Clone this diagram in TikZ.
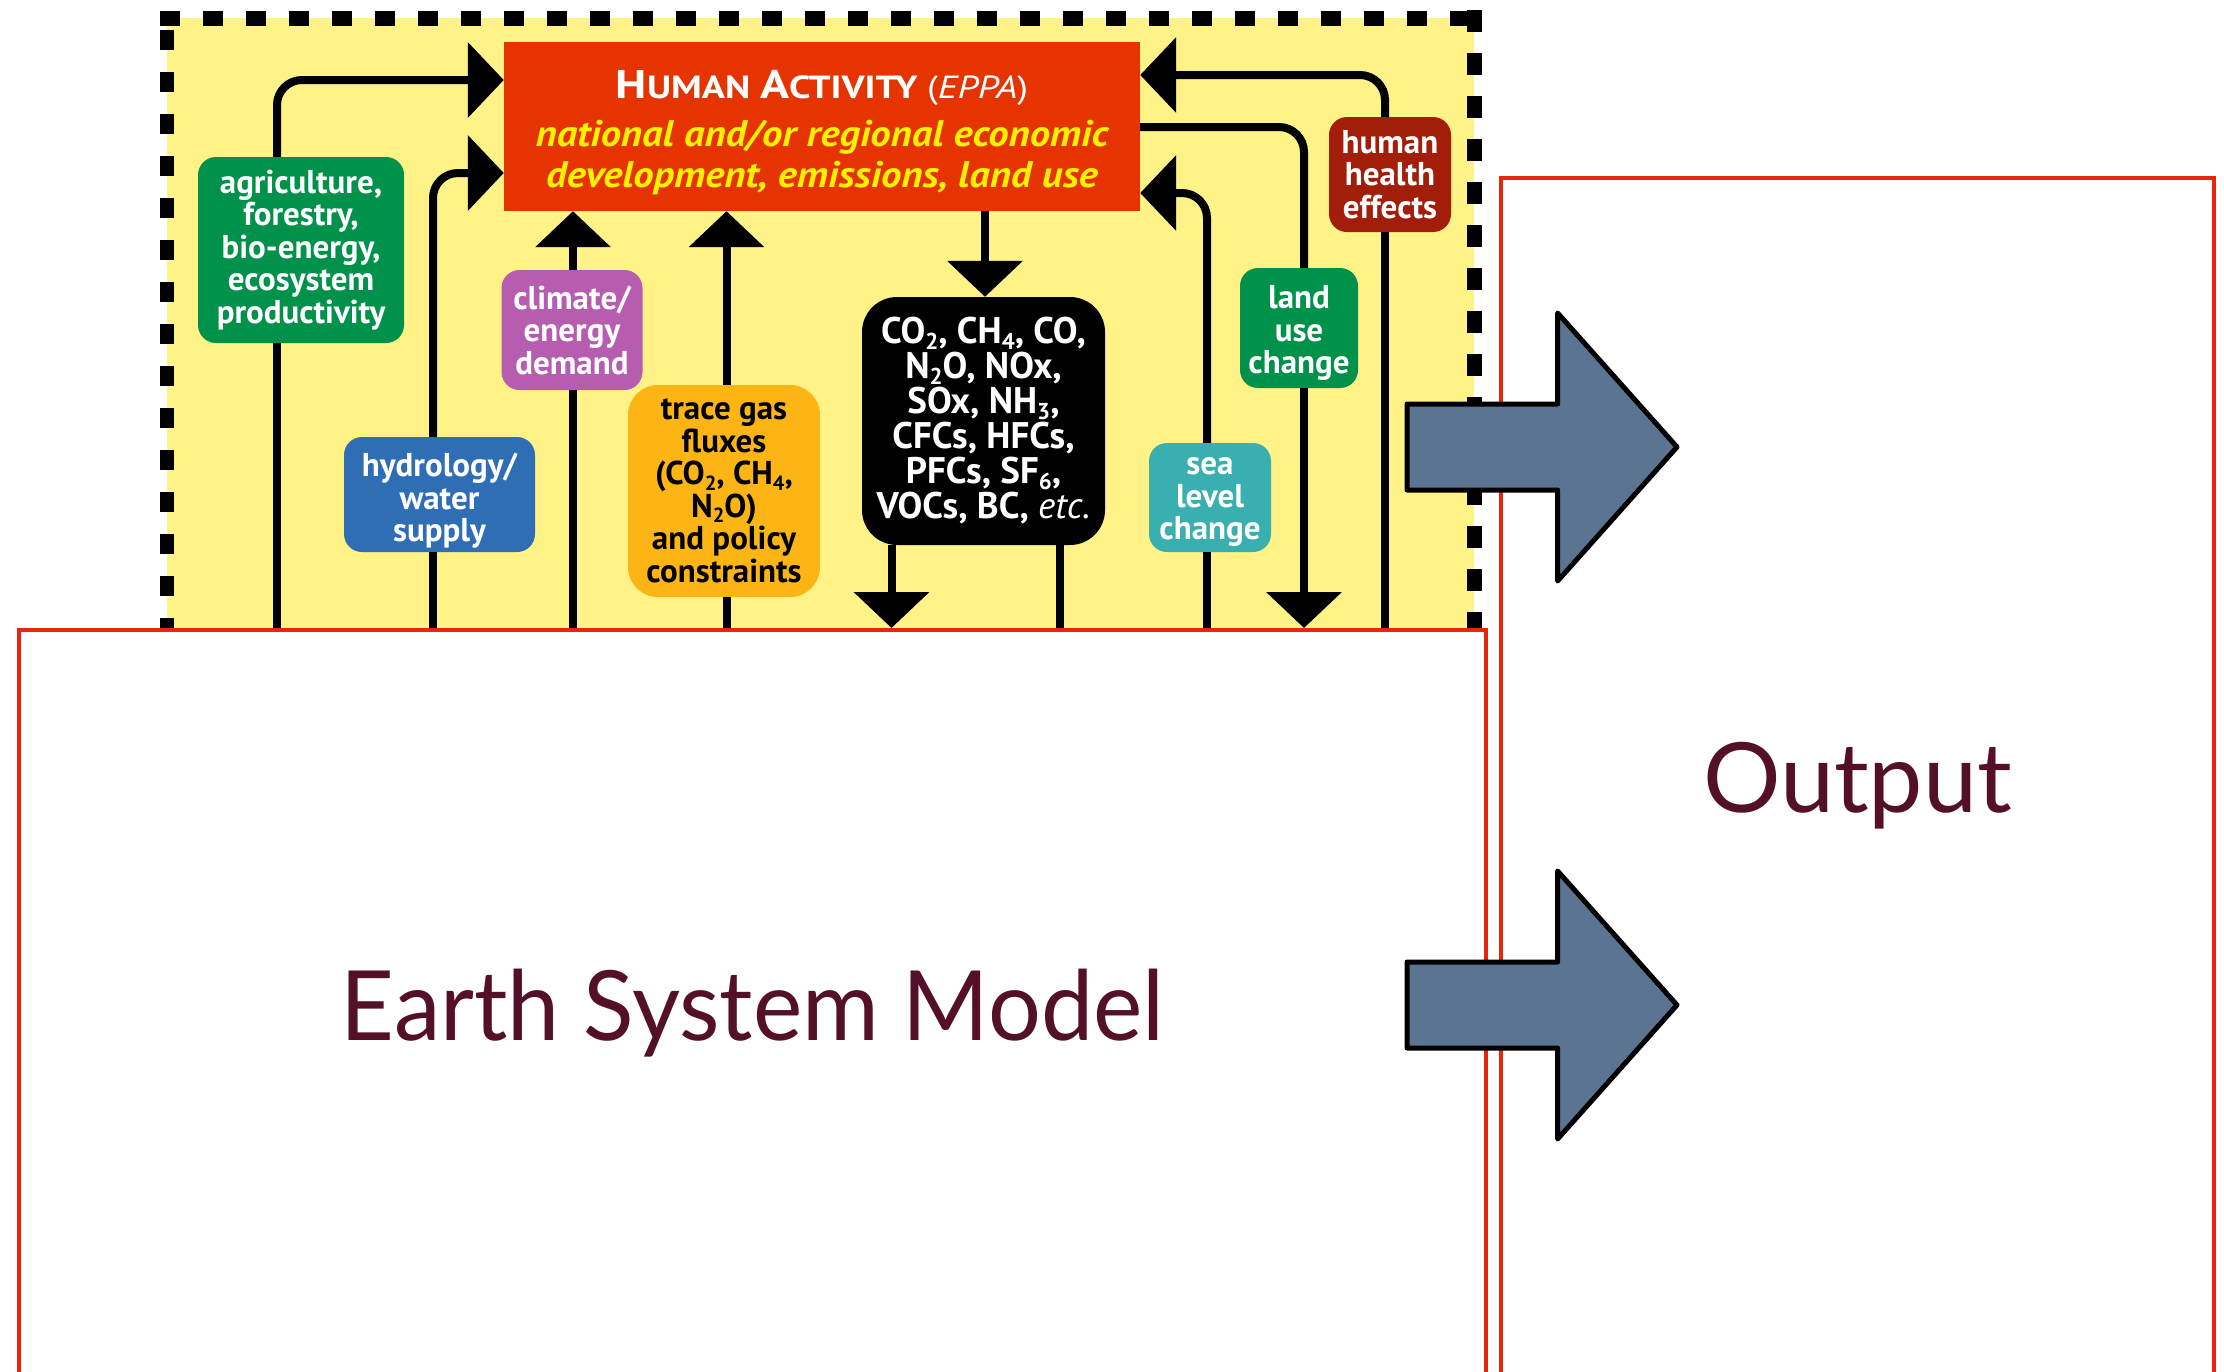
\documentclass[tikz,border=0pt]{standalone}
\usepackage{fontspec}
\usetikzlibrary{arrows.meta,calc}
\newfontfamily\ptsansfam{PT Sans}
\newfontfamily\gillfam{Lato}
\definecolor{panelY}{HTML}{FFF388}
\definecolor{humRed}{HTML}{E53400}
\definecolor{humYel}{HTML}{FFF000}
\definecolor{agriG}{HTML}{00914A}
\definecolor{hydB}{HTML}{2F6DB5}
\definecolor{climP}{HTML}{B65DAF}
\definecolor{traceO}{HTML}{FDB515}
\definecolor{seaT}{HTML}{3AAFB0}
\definecolor{healthR}{HTML}{A31D0B}
\definecolor{frameR}{HTML}{E8260D}
\definecolor{slate}{HTML}{5B7492}
\definecolor{maroon}{HTML}{541028}
\newcommand{\sbs}[1]{\raisebox{-0.16em}{\scalebox{0.62}{#1}}}
\newcommand{\tpstrut}[1]{\rule{0pt}{#1}}
\begin{document}
\begin{tikzpicture}[x=1pt,y=-1pt,
  box/.style={rounded corners=18pt, inner sep=0pt, align=center, text=white,
    font=\ptsansfam\bfseries\fontsize{33}{32.5}\selectfont},
  flow/.style={line width=8pt, rounded corners=25pt, -{Triangle[width=74pt,length=36pt]}},
  link/.style={line width=8pt, rounded corners=25pt},
  frame/.style={draw=frameR, line width=4pt, fill=white, inner sep=0pt, text=maroon,
    text depth=0pt, font=\gillfam\fontsize{97}{110}\selectfont},
  bigarr/.style={fill=slate, draw=black, line width=5pt, line join=round}
]
\useasboundingbox (0,0) rectangle (2224,1371);
\fill[white] (0,0) rectangle (2224,1371);

% yellow panel
\fill[panelY] (167,18) rectangle (1474,632);
\draw[line width=15pt, dash pattern=on 20pt off 23pt] (160,18) -- (1482,18);
\draw[line width=14pt, dash pattern=on 20pt off 22pt] (167,30) -- (167,640);
\draw[line width=15pt, dash pattern=on 22pt off 21pt] (1474.5,10) -- (1474.5,640);

% lower and right frames
\node[frame, minimum width=1467pt, minimum height=750pt] (esm) at (752.5,1005) {\scalebox{0.962}[1]{Earth System Model}};
\node[frame, minimum width=713pt, minimum height=1198pt] (out) at (1857.5,777) {Output};

% diagram nodes
\node[box, rounded corners=0pt, fill=humRed, minimum width=636pt, minimum height=169pt,
  font=\ptsansfam\bfseries\fontsize{37}{41}\selectfont] (hum) at (822,126.5)
  {\tpstrut{40pt}\scalebox{1.2}[1]{\fontsize{40}{41}\selectfont H\fontsize{32}{41}\selectfont UMAN \fontsize{40}{41}\selectfont A\fontsize{32}{41}\selectfont CTIVITY {\mdseries(\textit{EPPA})}}\\[7pt]
   \textcolor{humYel}{\scalebox{1.1}[1]{\itshape national and/or regional economic}}\\
   \textcolor{humYel}{\scalebox{1.1}[1]{\itshape development, emissions, land use}}};
\node[box, fill=agriG, minimum width=206pt, minimum height=186pt] (agri) at (301,250)
  {agriculture,\\forestry,\\bio-energy,\\ecosystem\\productivity};
\node[box, fill=hydB, minimum width=191pt, minimum height=115pt] (hydro) at (439.5,494.5)
  {\tpstrut{36pt}hydrology/\\water\\supply};
\node[box, fill=climP, minimum width=141pt, minimum height=120pt] (clim) at (572,330)
  {climate/\\energy\\demand};
\node[box, fill=traceO, text=black, minimum width=192pt, minimum height=212pt, rounded corners=30pt] (trace) at (724,491)
  {trace gas\\fluxes\\(CO\sbs{2}, CH\sbs{4},\\N\sbs{2}O)\\and policy\\constraints};
\node[box, fill=black, minimum width=243pt, minimum height=248pt, rounded corners=35pt,
  font=\ptsansfam\bfseries\fontsize{37}{35}\selectfont] (gas) at (983.5,421)
  {CO\sbs{2}, CH\sbs{4}, CO,\\N\sbs{2}O, NOx,\\SOx, NH\sbs{3},\\CFCs, HFCs,\\PFCs, SF\sbs{6},\\VOCs, BC, {\mdseries\itshape etc.}};
\node[box, fill=seaT, minimum width=122pt, minimum height=109pt] (sea) at (1210,497.5)
  {\tpstrut{26pt}sea\\level\\change};
\node[box, fill=agriG, minimum width=118pt, minimum height=120pt] (land) at (1299,328)
  {\tpstrut{33pt}land\\use\\change};
\node[box, fill=healthR, minimum width=122pt, minimum height=115pt] (health) at (1390,174.5)
  {human\\health\\effects};

% routing coordinates
\coordinate (k1) at (277,80);
\coordinate (k2) at (433,173);
\coordinate (k3) at (573,0);
\coordinate (k4) at (726.5,0);
\coordinate (k5) at (985,0);
\coordinate (k6) at (891.5,0);
\coordinate (k7) at (1059.5,0);
\coordinate (k8) at (1207,193);
\coordinate (k9) at (1304,127);
\coordinate (k10) at (1385,75);

% connectors
\draw[flow] (agri.north -| k1) |- (hum.west |- k1);
\draw[link] (agri.south -| k1) -- (esm.north -| k1);
\draw[flow] (hydro.north -| k2) |- (hum.west |- k2);
\draw[link] (hydro.south -| k2) -- (esm.north -| k2);
\draw[flow] (clim.north -| k3) -- (hum.south -| k3);
\draw[link] (clim.south -| k3) -- (esm.north -| k3);
\draw[flow] (trace.north -| k4) -- (hum.south -| k4);
\draw[link] (trace.south -| k4) -- (esm.north -| k4);
\draw[flow] (hum.south -| k5) -- (gas.north -| k5);
\draw[flow] (gas.south -| k6) -- (esm.north -| k6);
\draw[link] (gas.south -| k7) -- (esm.north -| k7);
\draw[flow] (sea.north -| k8) |- (hum.east |- k8);
\draw[link] (sea.south -| k8) -- (esm.north -| k8);
\draw[link] (hum.east |- k9) -| (land.north -| k9);
\draw[flow] (land.south -| k9) -- (esm.north -| k9);
\draw[flow] (health.north -| k10) |- (hum.east |- k10);
\draw[link] (health.south -| k10) -- (esm.north -| k10);

% block arrows
\draw[bigarr] (1407,404) -- (1557.6,404) -- (1557.6,313) -- (1677,447) -- (1557.6,581) -- (1557.6,490) -- (1407,490) -- cycle;
\begin{scope}[shift={(0,558)}]
\draw[bigarr] (1407,404) -- (1557.6,404) -- (1557.6,313) -- (1677,447) -- (1557.6,581) -- (1557.6,490) -- (1407,490) -- cycle;
\end{scope}
\end{tikzpicture}
\end{document}
